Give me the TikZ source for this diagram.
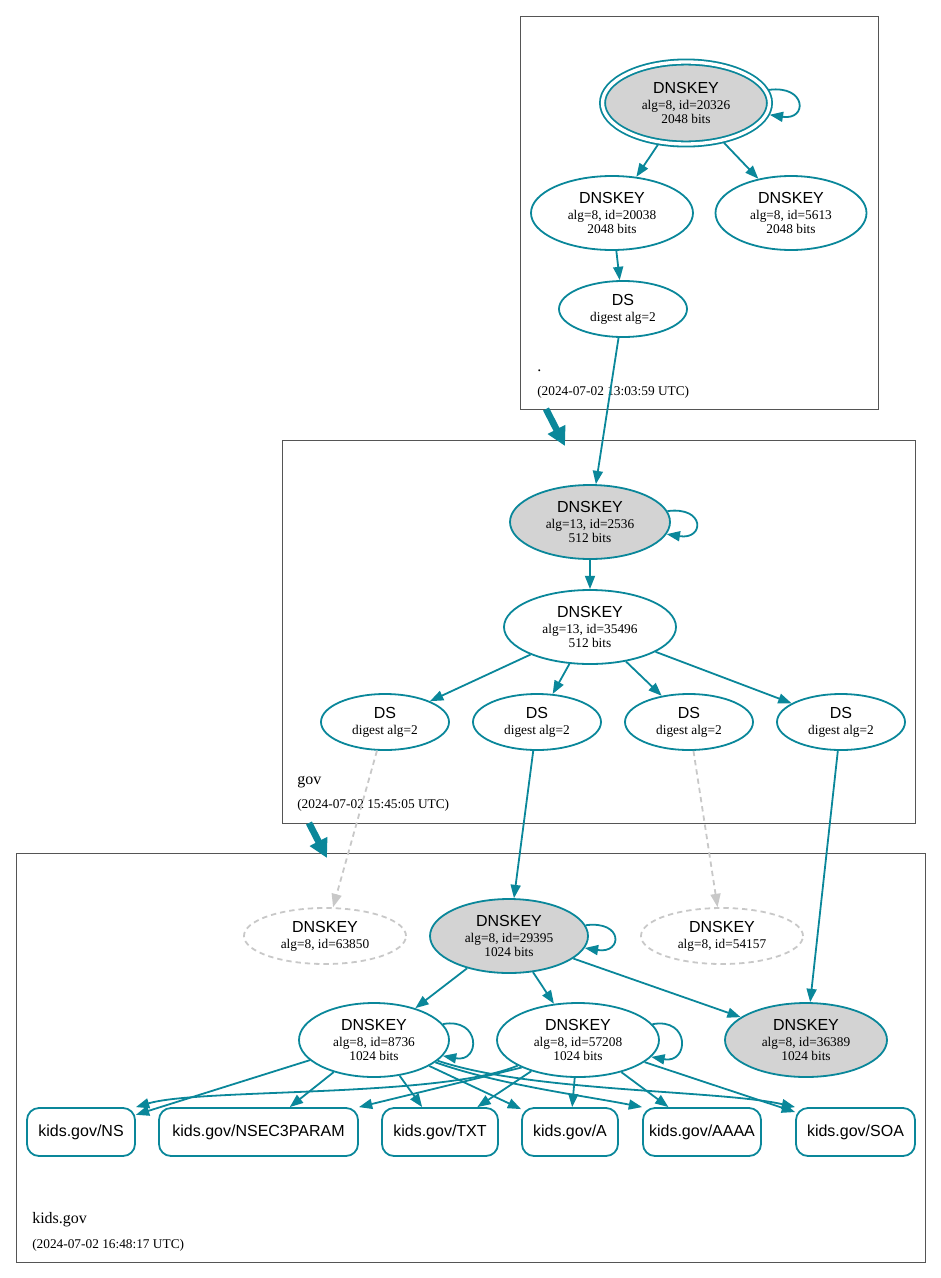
\documentclass[tikz,border=0pt]{standalone}
\usepackage{fontspec}
\setmainfont{Liberation Serif}
\setsansfont{Liberation Sans}
\usetikzlibrary{arrows.meta,shapes.geometric}
\definecolor{sec}{HTML}{0A879A}
\definecolor{keyfill}{HTML}{D3D3D3}
\definecolor{miss}{HTML}{C8C8C8}
\definecolor{clus}{HTML}{555555}
\newcommand{\hd}[1]{{\sffamily\fontsize{12}{12}\selectfont #1}}
\begin{document}
\begin{tikzpicture}[x=0.75pt,y=-0.75pt,
  key/.style={ellipse, draw=sec, line width=1.35pt, inner sep=0pt, align=center,
    font=\fontsize{10}{10.5}\selectfont, minimum height=55.5pt},
  ksk/.style={key, fill=keyfill},
  dsn/.style={key, minimum width=96pt, minimum height=42pt},
  misskey/.style={key, draw=miss, dash pattern=on 4pt off 3pt, minimum height=42pt},
  rec/.style={rectangle, rounded corners=9pt, draw=sec, line width=1.35pt, fill=white,
    minimum height=36pt, inner sep=0pt, font=\sffamily\fontsize{12}{14}\selectfont},
  edge/.style={draw=sec, line width=1.35pt, -{Triangle[length=10pt,width=7.5pt]}},
  missedge/.style={draw=miss, line width=1.35pt, dash pattern=on 4pt off 3pt,
    -{Triangle[length=10pt,width=7.5pt]}},
  clus/.style={rectangle, draw=clus, line width=0.6pt, anchor=north west, inner sep=0pt},
  deleg/.style={draw=sec, line width=5pt, -{Triangle[length=14pt,width=14pt]}},
  cname/.style={anchor=west, inner sep=0pt, font=\fontsize{12}{12}\selectfont},
  cdate/.style={anchor=west, inner sep=0pt, font=\fontsize{10}{10}\selectfont}
]
\useasboundingbox (0,0) rectangle (941,1278);

% clusters
\node[clus, minimum width=268.5pt, minimum height=294.75pt] (zroot) at (520,16) {};
\node[clus, minimum width=474.75pt, minimum height=287.25pt] (zgov) at (282,440) {};
\node[clus, minimum width=681.75pt, minimum height=306.75pt] (zkids) at (16,853) {};

\node[cname] (lroot) at (537,371) {.};
\node[cdate] (droot) at (537,392) {(2024-07-02 13:03:59 UTC)};
\node[cname] (lgov) at (297,782) {gov};
\node[cdate] (dgov) at (297,805) {(2024-07-02 15:45:05 UTC)};
\node[cname] (lkids) at (32,1220) {kids.gov};
\node[cdate] (dkids) at (32,1245) {(2024-07-02 16:48:17 UTC)};

% root zone
\node[ksk, double=white, double distance=2.5pt, outer sep=2.5pt,
  minimum width=125.25pt, minimum height=61.5pt] (k20326) at (686,103)
  {\hd{DNSKEY}\\[1.5pt]alg=8, id=20326\\2048 bits};
\node[key, minimum width=121.5pt] (k20038) at (612,213)
  {\hd{DNSKEY}\\[1.5pt]alg=8, id=20038\\2048 bits};
\node[key, minimum width=113.25pt] (k5613) at (791,213)
  {\hd{DNSKEY}\\[1.5pt]alg=8, id=5613\\2048 bits};
\node[dsn] (dsroot) at (623,309) {\hd{DS}\\[1.5pt]digest alg=2};

% gov zone
\node[ksk, minimum width=120pt] (k2536) at (590,522)
  {\hd{DNSKEY}\\[1.5pt]alg=13, id=2536\\512 bits};
\node[key, minimum width=129pt] (k35496) at (590,627)
  {\hd{DNSKEY}\\[1.5pt]alg=13, id=35496\\512 bits};
\node[dsn] (ds1) at (385,722) {\hd{DS}\\[1.5pt]digest alg=2};
\node[dsn] (ds2) at (537,722) {\hd{DS}\\[1.5pt]digest alg=2};
\node[dsn] (ds3) at (689,722) {\hd{DS}\\[1.5pt]digest alg=2};
\node[dsn] (ds4) at (841,722) {\hd{DS}\\[1.5pt]digest alg=2};

% kids.gov zone
\node[misskey, minimum width=121.5pt] (k63850) at (325,936)
  {\hd{DNSKEY}\\[1.5pt]alg=8, id=63850};
\node[ksk, minimum width=118.5pt] (k29395) at (509,936)
  {\hd{DNSKEY}\\[1.5pt]alg=8, id=29395\\1024 bits};
\node[misskey, minimum width=121.5pt] (k54157) at (722,936)
  {\hd{DNSKEY}\\[1.5pt]alg=8, id=54157};
\node[key, minimum width=112.5pt] (k8736) at (374,1040)
  {\hd{DNSKEY}\\[1.5pt]alg=8, id=8736\\1024 bits};
\node[key, minimum width=121.5pt] (k57208) at (578,1040)
  {\hd{DNSKEY}\\[1.5pt]alg=8, id=57208\\1024 bits};
\node[ksk, minimum width=121.5pt] (k36389) at (806,1040)
  {\hd{DNSKEY}\\[1.5pt]alg=8, id=36389\\1024 bits};

\node[rec, minimum width=81pt] (rNS) at (81,1132) {kids.gov/NS};
\node[rec, minimum width=149.25pt] (rNSEC) at (258.5,1132) {kids.gov/NSEC3PARAM};
\node[rec, minimum width=87pt] (rTXT) at (440,1132) {kids.gov/TXT};
\node[rec, minimum width=72pt] (rA) at (570,1132) {kids.gov/A};
\node[rec, minimum width=88.5pt] (rAAAA) at (702,1132) {kids.gov/AAAA};
\node[rec, minimum width=89.25pt] (rSOA) at (855.5,1132) {kids.gov/SOA};

% delegation arrows
\coordinate (d1a) at (546,409);
\coordinate (d1b) at (565,446);
\coordinate (d2a) at (309,823);
\coordinate (d2b) at (327,858);
\draw[deleg] (d1a) -- (d1b);
\draw[deleg] (d2a) -- (d2b);

% root edges
\draw[edge] (k20326.9) .. controls +(38,-5) and +(38,6) .. (k20326.-8);
\draw[edge] (k20326) -- (k20038);
\draw[edge] (k20326) -- (k5613);
\draw[edge] (k20038) -- (dsroot);
\draw[edge] (dsroot) -- (k2536);

% gov edges
\draw[edge] (k2536.8) .. controls +(38,-5) and +(38,6) .. (k2536.-9);
\draw[edge] (k2536) -- (k35496);
\draw[edge] (k35496) -- (ds1);
\draw[edge] (k35496) -- (ds2);
\draw[edge] (k35496) -- (ds3);
\draw[edge] (k35496) -- (ds4);
\draw[missedge] (ds1) -- (k63850);
\draw[edge] (ds2) -- (k29395);
\draw[missedge] (ds3) -- (k54157);
\draw[edge] (ds4) -- (k36389);

% kids.gov edges
\draw[edge] (k29395.8) .. controls +(38,-5) and +(38,6) .. (k29395.-9);
\draw[edge] (k29395) -- (k8736);
\draw[edge] (k29395) -- (k57208);
\draw[edge] (k29395) -- (k36389);

\draw[edge] (k8736.13) .. controls +(38,-7) and +(38,7) .. (k8736.-13);
\draw[edge] (k57208.12) .. controls +(38,-7) and +(38,7) .. (k57208.-13);

\draw[edge] (k8736) -- (rNS);
\draw[edge] (k8736) -- (rNSEC);
\draw[edge] (k8736) -- (rTXT);
\draw[edge] (k8736) -- (rA);
\draw[edge] (k8736.-20) .. controls (500,1085) and (580,1095) .. (rAAAA.north west);
\draw[edge] (k8736.-18) .. controls (530,1092) and (720,1090) .. (rSOA.north west);

\draw[edge] (k57208.203) .. controls (440,1098) and (200,1088) .. (rNS.north east);
\draw[edge] (k57208.206) -- (rNSEC.north east);
\draw[edge] (k57208) -- (rTXT);
\draw[edge] (k57208) -- (rA);
\draw[edge] (k57208) -- (rAAAA);
\draw[edge] (k57208) -- (rSOA);
\end{tikzpicture}
\end{document}
